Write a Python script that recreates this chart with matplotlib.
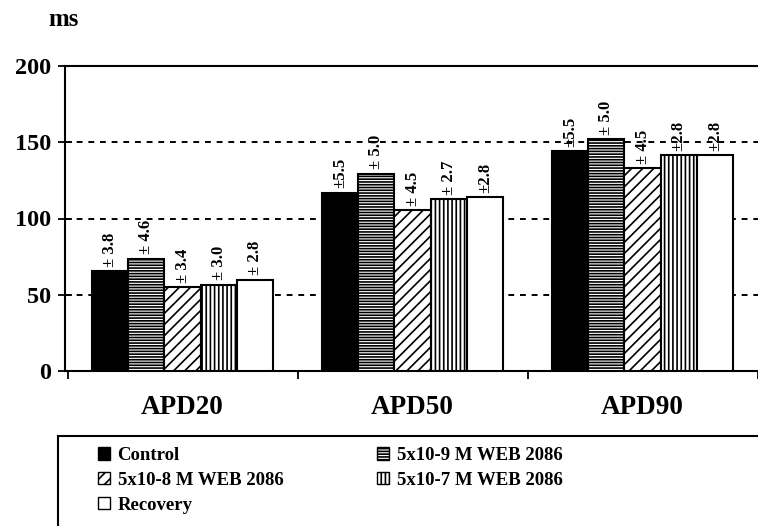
import matplotlib
matplotlib.use("Agg")
import matplotlib.pyplot as plt
import numpy as np
from matplotlib.patches import Patch, Rectangle

# APD values (ms) for each condition, grouped by APD20 / APD50 / APD90
groups = ["APD20", "APD50", "APD90"]
conditions = ["Control", "5x10-9 M WEB 2086", "5x10-8 M WEB 2086",
              "5x10-7 M WEB 2086", "Recovery"]
control = [65.5, 117, 144]
web_9 = [73.5, 129.5, 152]
web_8 = [55, 105.5, 133]
web_7 = [56.5, 112.5, 141.5]
recovery = [60, 114, 141.5]
sem_labels = [
    ["± 3.8", "± 4.6", "± 3.4", "± 3.0", "± 2.8"],
    ["±5.5", "± 5.0", "± 4.5", "± 2.7", "±2.8"],
    ["±5.5", "± 5.0", "± 4.5", "±2.8", "±2.8"],
]
yticks = [0, 50, 100, 150, 200]

series = [control, web_9, web_8, web_7, recovery]
faces = ["black", "white", "white", "white", "white"]
hatches = [None, "------", "///", "||||", None]

plt.rcParams["font.family"] = ["Liberation Serif", "DejaVu Serif"]
plt.rcParams["hatch.linewidth"] = 1.2
plt.rcParams["hatch.color"] = "black"

fig = plt.figure(figsize=(7.58, 5.26), dpi=100)
ax = fig.add_axes([65 / 758, 155 / 526, 1 - 65 / 758, 305 / 526])

x = np.arange(len(groups))
w = 0.157
for k, vals in enumerate(series):
    xs = x + (k - 2) * w
    ax.bar(xs, vals, w, color=faces[k], edgecolor="black", lw=1.5,
           hatch=hatches[k], zorder=3)
    for g, v in enumerate(vals):
        ax.text(xs[g], v + 3, sem_labels[g][k], rotation=90, ha="center",
                va="bottom", fontsize=12, fontweight="bold", zorder=4)

ax.set_xlim(-0.511, 2.502)
ax.set_ylim(0, 200)
ax.set_yticks(yticks)
ax.set_yticklabels([str(t) for t in yticks], fontsize=17.5, fontweight="bold")
ax.tick_params(axis="y", direction="inout", length=10, width=1.3, pad=5)
ax.set_xticks(x)
ax.set_xticklabels(groups, fontsize=19.5, fontweight="bold")
ax.tick_params(axis="x", which="major", length=0, pad=17)
ax.set_xticks([-0.5, 0.5, 1.5, 2.5], minor=True)
ax.tick_params(axis="x", which="minor", direction="out", length=6, width=1.3)

for y in [50, 100, 150]:
    ax.axhline(y, color="black", lw=1.4, ls=(0, (3, 3)), zorder=1)

ax.spines["right"].set_visible(False)
for s in ["left", "top", "bottom"]:
    ax.spines[s].set_linewidth(1.5)

fig.text(64 / 758, 1 - 20 / 526, "ms", ha="center", va="center",
         fontsize=18, fontweight="bold")

# legend box runs off the right and bottom edges
fig.patches.append(Rectangle((58 / 758, -0.1), 1.0, 0.1 + (526 - 436) / 526,
                             transform=fig.transFigure, fill=False,
                             edgecolor="black", lw=1.5))
order = [0, 2, 4, 1, 3]
handles = [Patch(facecolor=faces[k], edgecolor="black", hatch=hatches[k])
           for k in order]
labels = [conditions[k] for k in order]
fig.legend(handles, labels, ncol=2, frameon=False, loc="upper left",
           bbox_to_anchor=(81 / 758, 1 - 430 / 526),
           prop={"family": "Liberation Serif", "weight": "bold", "size": 13.5},
           handlelength=0.65, handleheight=0.65, handletextpad=0.4,
           labelspacing=0.42, columnspacing=5.0)

fig.savefig("out.png", dpi=100)
